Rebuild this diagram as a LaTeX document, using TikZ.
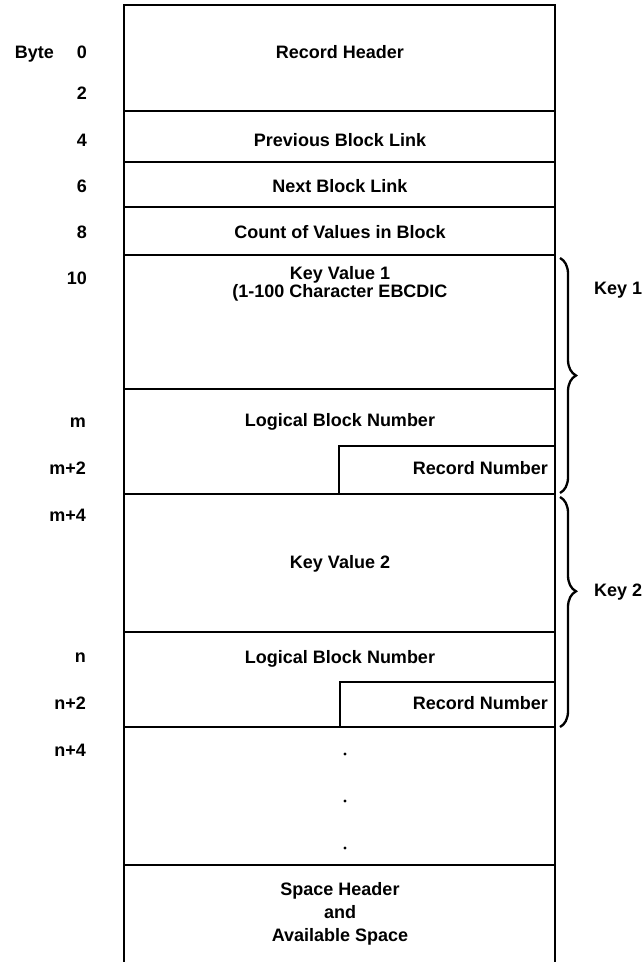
\documentclass[tikz,border=0pt]{standalone}
\usepackage{fontspec}
\setmainfont{Liberation Sans}
\usetikzlibrary{decorations.pathreplacing}
\begin{document}
\begin{tikzpicture}[x=1pt,y=-1pt,
  rule/.style={line width=1.8pt},
  txt/.style={font=\fontsize{18}{20}\selectfont\bfseries, inner sep=0pt, anchor=base},
  offs/.style={txt, anchor=base east},
  brc/.style={decorate, decoration={brace, amplitude=16pt}, line width=2.3pt}]
\useasboundingbox (0,0) rectangle (643,962);
\fill[white] (0,0) rectangle (643,962);
% outer frame
\coordinate (tl) at (124,5);
\coordinate (tr) at (555,5);
\coordinate (bl) at (124,962);
\coordinate (br) at (555,962);
\draw[rule] (bl) -- (tl) -- (tr) -- (br);
% separators
\foreach \y in {111,162,207,255,389,494,632,727,865}
  \draw[rule] (124,\y) -- (555,\y);
% inner record number boxes
\draw[rule] (339,494) -- (339,446) -- (555,446);
\draw[rule] (340,727) -- (340,682) -- (555,682);
% offsets
\node[txt, anchor=base east] (byte) at (54,58.5) {Byte};
\node[offs] (o0) at (87,58.5) {0};
\node[offs] (o2) at (87,99.5) {2};
\node[offs] (o4) at (87,146.5) {4};
\node[offs] (o6) at (87,192) {6};
\node[offs] (o8) at (87,238.5) {8};
\node[offs] (o10) at (87,284.5) {10};
\node[offs] (om) at (86,427) {m};
\node[offs] (om2) at (86,474.5) {m+2};
\node[offs] (om4) at (86,521.5) {m+4};
\node[offs] (on) at (86,662) {n};
\node[offs] (on2) at (86,709.5) {n+2};
\node[offs] (on4) at (86,756.5) {n+4};
% field texts
\node[txt] (rh) at (340,58.5) {Record Header};
\node[txt] (pbl) at (340,146.5) {Previous Block Link};
\node[txt] (nbl) at (340,192.5) {Next Block Link};
\node[txt] (cnt) at (340,238.5) {Count of Values in Block};
\node[txt] (kv1) at (340,279) {Key Value 1};
\node[txt] (kv1b) at (340,297) {(1-100 Character EBCDIC};
\node[txt] (lbn1) at (340,426.5) {Logical Block Number};
\node[txt, anchor=base east] (rn1) at (548,474.5) {Record Number};
\node[txt] (kv2) at (340,568.5) {Key Value 2};
\node[txt] (lbn2) at (340,663.5) {Logical Block Number};
\node[txt, anchor=base east] (rn2) at (548,709.5) {Record Number};
\fill (345,754) circle (1.7pt);
\fill (345,801) circle (1.7pt);
\fill (345,848) circle (1.7pt);
\node[txt] (sh) at (340,895.5) {Space Header};
\node[txt] (and) at (340,918) {and};
\node[txt] (as) at (340,941.5) {Available Space};
% braces
\coordinate (b1t) at (560,258);
\coordinate (b1b) at (560,493);
\coordinate (b2t) at (560,497);
\coordinate (b2b) at (560,727);
\draw[brc] (b1t) -- (b1b);
\draw[brc, decoration={aspect=0.41}] (b2t) -- (b2b);
\node[txt, anchor=base west] (k1) at (594,294.5) {Key 1};
\node[txt, anchor=base west] (k2) at (594,596.5) {Key 2};
\end{tikzpicture}
\end{document}
